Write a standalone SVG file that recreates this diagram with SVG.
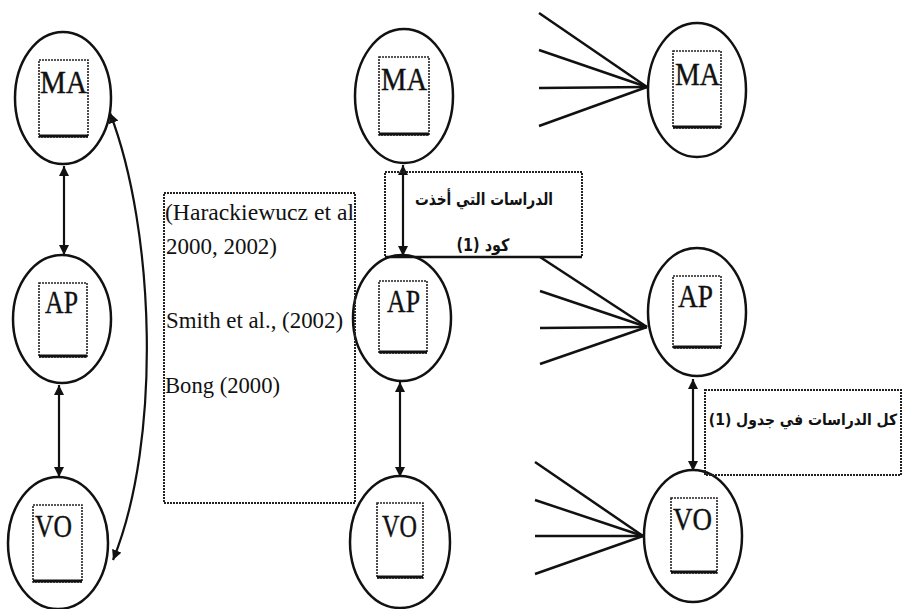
<svg xmlns="http://www.w3.org/2000/svg" width="903" height="609" viewBox="0 0 903 609">
<style>
.ell{fill:none;stroke:#111;stroke-width:2.5}
.card{fill:#fff;stroke:#222;stroke-width:1.6;stroke-dasharray:2 1}
.cardb{stroke:#111;stroke-width:3}
.nl{font-family:"Liberation Serif","Times New Roman",serif;font-size:31px;fill:#111;text-anchor:middle;stroke:#111;stroke-width:0.4}
.box{fill:none;stroke:#222;stroke-width:2;stroke-dasharray:2 1}
.cite{font-family:"Liberation Serif","Times New Roman",serif;font-size:23px;fill:#111}
.ar{font-family:"DejaVu Sans","Noto Sans",sans-serif;font-size:17px;font-weight:bold;fill:#111;text-anchor:middle}
.arc{font-family:"DejaVu Sans Condensed","DejaVu Sans",sans-serif;font-size:15.5px;font-weight:bold;fill:#111;text-anchor:middle}
.ln{fill:none;stroke:#111;stroke-width:2.5}
.arr{fill:none;stroke:#111;stroke-width:2.2;marker-start:url(#ah);marker-end:url(#ah)}
</style>
<defs>
<marker id="ah" viewBox="0 0 10 10" refX="10" refY="5" markerWidth="10" markerHeight="10" markerUnits="userSpaceOnUse" orient="auto-start-reverse">
<path d="M0,0 L10,5 L0,10 z" fill="#111"/>
</marker>
</defs>
<rect width="903" height="609" fill="#fff"/>

<g id="connectors">
<line class="arr" x1="64" y1="166" x2="64" y2="255"/>
<line class="arr" x1="59" y1="385" x2="59" y2="477"/>
<path class="arr" d="M110,113 C155,230 162,440 113,560"/>
<line class="arr" x1="403" y1="165" x2="403" y2="256"/>
<line class="arr" x1="400" y1="382" x2="400" y2="477"/>
<line class="arr" x1="693" y1="379" x2="693" y2="471"/>
<line class="ln" x1="539" y1="13" x2="647" y2="87"/>
<line class="ln" x1="539" y1="50" x2="647" y2="87"/>
<line class="ln" x1="539" y1="88" x2="647" y2="87"/>
<line class="ln" x1="539" y1="126" x2="647" y2="87"/>
<line class="ln" x1="540" y1="257" x2="647" y2="327"/>
<line class="ln" x1="540" y1="291" x2="647" y2="327"/>
<line class="ln" x1="540" y1="328" x2="647" y2="327"/>
<line class="ln" x1="540" y1="364" x2="647" y2="327"/>
<line class="ln" x1="535" y1="462" x2="643" y2="536"/>
<line class="ln" x1="535" y1="500" x2="643" y2="536"/>
<line class="ln" x1="535" y1="536" x2="643" y2="536"/>
<line class="ln" x1="535" y1="574" x2="643" y2="536"/>
</g>

<g id="ma1">
<ellipse class="ell" cx="63" cy="98" rx="48" ry="66"/>
<rect class="card" x="39" y="60" width="49" height="77"/>
<line class="cardb" x1="39" y1="136" x2="88" y2="136"/>
<text class="nl" x="63.5" y="93" textLength="47" lengthAdjust="spacingAndGlyphs">MA</text>
</g>
<g id="ap1">
<ellipse class="ell" cx="62" cy="319" rx="49" ry="64"/>
<rect class="card" x="39" y="283" width="48" height="74"/>
<line class="cardb" x1="39" y1="356" x2="87" y2="356"/>
<text class="nl" x="61.5" y="313" textLength="33" lengthAdjust="spacingAndGlyphs">AP</text>
</g>
<g id="vo1">
<ellipse class="ell" cx="58" cy="543" rx="50" ry="66"/>
<rect class="card" x="33" y="505" width="49" height="77"/>
<line class="cardb" x1="33" y1="581" x2="82" y2="581"/>
<text class="nl" x="53.5" y="537" textLength="37" lengthAdjust="spacingAndGlyphs">VO</text>
</g>

<g id="ma2">
<ellipse class="ell" cx="404" cy="96" rx="49" ry="67"/>
<rect class="card" x="379" y="57" width="50" height="78"/>
<line class="cardb" x1="379" y1="134" x2="429" y2="134"/>
<text class="nl" x="404" y="90" textLength="46" lengthAdjust="spacingAndGlyphs">MA</text>
</g>
<g id="ap2">
<ellipse class="ell" cx="402" cy="318" rx="49" ry="63"/>
<rect class="card" x="379" y="281" width="48" height="72"/>
<line class="cardb" x1="379" y1="352" x2="427" y2="352"/>
<text class="nl" x="403.5" y="312" textLength="33" lengthAdjust="spacingAndGlyphs">AP</text>
</g>
<g id="vo2">
<ellipse class="ell" cx="400" cy="542" rx="50" ry="66"/>
<rect class="card" x="377" y="503" width="46" height="75"/>
<line class="cardb" x1="377" y1="577" x2="423" y2="577"/>
<text class="nl" x="399.5" y="537" textLength="35" lengthAdjust="spacingAndGlyphs">VO</text>
</g>

<g id="ma3">
<ellipse class="ell" cx="697" cy="90" rx="49" ry="67"/>
<rect class="card" x="673" y="51" width="48" height="77"/>
<line class="cardb" x1="673" y1="127" x2="721" y2="127"/>
<text class="nl" x="697.5" y="85" textLength="45" lengthAdjust="spacingAndGlyphs">MA</text>
</g>
<g id="ap3">
<ellipse class="ell" cx="697" cy="312" rx="49" ry="64"/>
<rect class="card" x="673" y="276" width="48" height="72"/>
<line class="cardb" x1="673" y1="347" x2="721" y2="347"/>
<text class="nl" x="695.5" y="307" textLength="35" lengthAdjust="spacingAndGlyphs">AP</text>
</g>
<g id="vo3">
<ellipse class="ell" cx="693" cy="536" rx="49" ry="66"/>
<rect class="card" x="671" y="498" width="46" height="75"/>
<line class="cardb" x1="671" y1="572" x2="717" y2="572"/>
<text class="nl" x="692.5" y="530" textLength="39" lengthAdjust="spacingAndGlyphs">VO</text>
</g>

<g id="citations">
<rect class="box" x="164" y="193" width="191" height="310"/>
<text class="cite" x="165" y="220" textLength="189" lengthAdjust="spacingAndGlyphs">(Harackiewucz et al</text>
<text class="cite" x="166" y="254" textLength="111" lengthAdjust="spacingAndGlyphs">2000, 2002)</text>
<text class="cite" x="166" y="328" textLength="177" lengthAdjust="spacingAndGlyphs">Smith et al., (2002)</text>
<text class="cite" x="165" y="393" textLength="115" lengthAdjust="spacingAndGlyphs">Bong (2000)</text>
</g>

<g id="label-code1">
<rect class="box" x="385" y="172" width="197" height="85"/>
<line x1="385" y1="257" x2="582" y2="257" stroke="#111" stroke-width="2.5"/>
<text class="ar" x="484" y="205" direction="rtl" textLength="138" lengthAdjust="spacingAndGlyphs">الدراسات التي أخذت</text>
<text class="ar" x="483" y="251" direction="rtl" textLength="53" lengthAdjust="spacingAndGlyphs">كود (1)</text>
</g>

<g id="label-table1">
<rect class="box" x="705" y="390" width="196" height="85"/>
<text class="arc" x="803" y="425" direction="rtl">كل الدراسات في جدول (1)</text>
</g>
</svg>
